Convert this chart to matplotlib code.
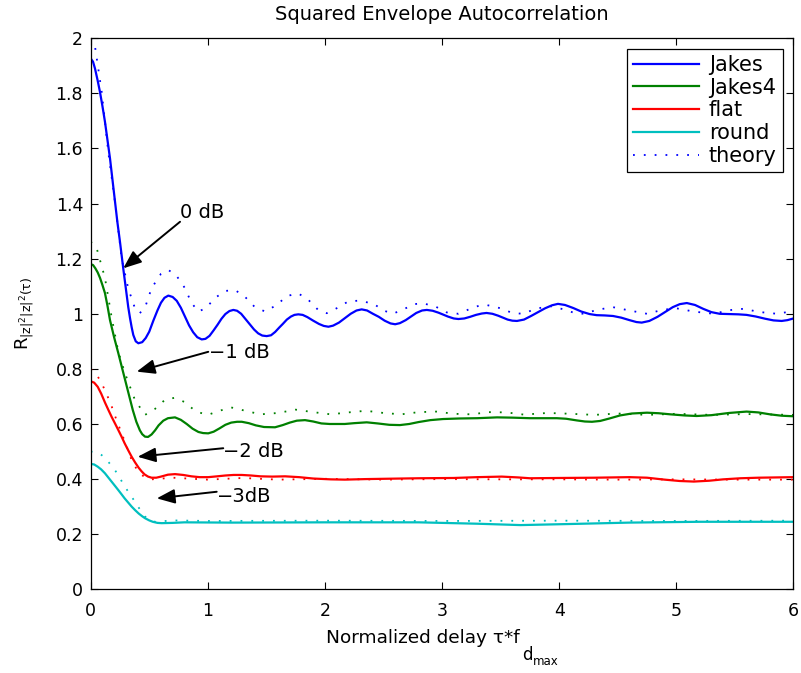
import matplotlib
matplotlib.use("Agg")
import matplotlib.pyplot as plt
from matplotlib.lines import Line2D

plt.rcParams['font.family'] = ['DejaVu Sans']
plt.rcParams['mathtext.fontset'] = 'custom'
plt.rcParams['mathtext.rm'] = 'DejaVu Sans'
plt.rcParams['mathtext.it'] = 'DejaVu Sans'

#---------------- values
# Jakes (blue solid)
jakes_x = [0, 0.02, 0.037, 0.058, 0.079, 0.1, 0.122, 0.143, 0.165, 0.186, 0.207, 0.228, 0.25,
           0.264, 0.278, 0.293, 0.307, 0.321, 0.336, 0.35, 0.364, 0.385, 0.407,
           0.44, 0.47, 0.5, 0.535, 0.57, 0.6, 0.63, 0.663,
           0.7, 0.735, 0.77, 0.805, 0.84, 0.875, 0.91, 0.948,
           0.98, 1.015, 1.05, 1.083, 1.117, 1.15, 1.185, 1.218,
           1.25, 1.285, 1.32, 1.36, 1.395, 1.43, 1.465, 1.503,
           1.54, 1.575, 1.61, 1.64, 1.675, 1.71, 1.74, 1.773,
           1.81, 1.85, 1.9, 1.95, 1.99, 2.03,
           2.07, 2.12, 2.17, 2.22, 2.27, 2.314,
           2.36, 2.41, 2.46, 2.51, 2.56, 2.6,
           2.64, 2.69, 2.735, 2.78, 2.83, 2.87,
           2.92, 2.97, 3.01, 3.05, 3.1, 3.14,
           3.19, 3.24, 3.29, 3.34, 3.38,
           3.43, 3.48, 3.52, 3.56, 3.6, 3.64,
           3.7, 3.76, 3.82, 3.88, 3.94, 3.99,
           4.05, 4.12, 4.19, 4.26, 4.32, 4.39, 4.46,
           4.53, 4.6, 4.66, 4.705,
           4.77, 4.84, 4.91, 4.97, 5.03, 5.09,
           5.16, 5.23, 5.3, 5.37, 5.45, 5.53, 5.6, 5.68, 5.76, 5.83, 5.9, 5.95, 6.0]
jakes_y = [1.927, 1.915, 1.89, 1.85, 1.806, 1.755, 1.697, 1.632, 1.564, 1.487, 1.407, 1.333, 1.262,
           1.213, 1.165, 1.115, 1.068, 1.024, 0.984, 0.951, 0.923, 0.9, 0.893,
           0.897, 0.912, 0.935, 0.975, 1.012, 1.040, 1.058, 1.066,
           1.061, 1.047, 1.022, 0.99, 0.958, 0.933, 0.915, 0.907,
           0.909, 0.92, 0.94, 0.96, 0.982, 0.999, 1.01, 1.014,
           1.011, 1.0, 0.982, 0.962, 0.943, 0.929, 0.921, 0.919,
           0.922, 0.934, 0.95, 0.963, 0.979, 0.99, 0.996, 0.998,
           0.996, 0.988, 0.975, 0.963, 0.956, 0.953,
           0.957, 0.968, 0.984, 1.0, 1.012, 1.016,
           1.012, 1.0, 0.989, 0.975, 0.965, 0.962,
           0.966, 0.977, 0.99, 1.003, 1.012, 1.014,
           1.011, 1.004, 0.997, 0.99, 0.983, 0.981,
           0.983, 0.989, 0.996, 1.001, 1.003,
           1.0, 0.993, 0.986, 0.979, 0.975, 0.974,
           0.979, 0.992, 1.006, 1.02, 1.031, 1.036,
           1.032, 1.021, 1.008, 0.999, 0.995, 0.994, 0.992,
           0.986, 0.977, 0.97, 0.968,
           0.974, 0.989, 1.008, 1.024, 1.035, 1.039,
           1.032, 1.018, 1.006, 1.0, 0.999, 0.998, 0.996, 0.99, 0.982, 0.976, 0.974, 0.977, 0.983]

# Jakes4 (green solid)
jakes4_x = [0, 0.02, 0.04, 0.06, 0.08, 0.1, 0.122, 0.143, 0.165, 0.2, 0.236, 0.27, 0.3, 0.33,
            0.36, 0.39, 0.42, 0.44, 0.464, 0.49, 0.52, 0.55, 0.58, 0.62, 0.66, 0.72, 0.77,
            0.82, 0.87, 0.92, 0.96, 1.004, 1.05, 1.1, 1.15, 1.2, 1.25, 1.29, 1.35, 1.41, 1.48,
            1.574, 1.64, 1.7, 1.76, 1.83, 1.9, 1.97, 2.04, 2.1, 2.17, 2.25, 2.357, 2.45, 2.55,
            2.64, 2.72, 2.8, 2.9, 3.01, 3.15, 3.3, 3.47, 3.6, 3.75, 3.9, 3.98, 4.06, 4.15,
            4.22, 4.28, 4.35, 4.43, 4.52, 4.62, 4.75, 4.85, 4.95, 5.07, 5.175, 5.3, 5.45, 5.6,
            5.7, 5.8, 5.9, 6.0]
jakes4_y = [1.18, 1.177, 1.165, 1.15, 1.13, 1.105, 1.075, 1.03, 0.977, 0.915, 0.857, 0.8, 0.75, 0.7,
            0.65, 0.608, 0.577, 0.563, 0.554, 0.553, 0.562, 0.577, 0.595, 0.612, 0.621, 0.624, 0.615,
            0.6, 0.583, 0.571, 0.567, 0.566, 0.572, 0.584, 0.597, 0.605, 0.608, 0.608, 0.603, 0.595, 0.589,
            0.588, 0.596, 0.605, 0.612, 0.614, 0.609, 0.602, 0.6, 0.6, 0.6, 0.603, 0.606, 0.602, 0.597,
            0.596, 0.6, 0.607, 0.614, 0.618, 0.62, 0.621, 0.624, 0.623, 0.621, 0.621, 0.621, 0.619, 0.613,
            0.609, 0.608, 0.611, 0.62, 0.631, 0.638, 0.641, 0.639, 0.635, 0.631, 0.629, 0.632, 0.64, 0.645,
            0.642, 0.635, 0.63, 0.628]

# flat (red solid)
flat_x = [0, 0.03, 0.06, 0.09, 0.122, 0.15, 0.18, 0.21, 0.236, 0.265, 0.29, 0.32, 0.35, 0.38,
          0.41, 0.435, 0.46, 0.49, 0.52, 0.56, 0.6, 0.66, 0.72, 0.79, 0.86, 0.93, 1.004, 1.08,
          1.15, 1.22, 1.29, 1.37, 1.45, 1.55, 1.66, 1.78, 1.9, 2.05, 2.17, 2.35, 2.5, 2.8,
          3.1, 3.3, 3.51, 3.65, 3.75, 4.0, 4.3, 4.6, 4.75, 4.9, 5.03, 5.15, 5.28, 5.4, 5.55,
          5.7, 6.0]
flat_y = [0.755, 0.75, 0.735, 0.71, 0.678, 0.652, 0.625, 0.6, 0.578, 0.553, 0.53, 0.505, 0.481, 0.46,
          0.441, 0.428, 0.417, 0.409, 0.405, 0.405, 0.409, 0.416, 0.418, 0.415, 0.41, 0.407, 0.407, 0.41,
          0.413, 0.415, 0.415, 0.413, 0.41, 0.409, 0.41, 0.407, 0.402, 0.399, 0.398, 0.4, 0.401, 0.403,
          0.404, 0.407, 0.409, 0.406, 0.403, 0.404, 0.405, 0.407, 0.405, 0.398, 0.393, 0.391, 0.394, 0.399, 0.403,
          0.405, 0.407]

# round (cyan solid)
round_x = [0, 0.03, 0.06, 0.09, 0.122, 0.15, 0.18, 0.21, 0.236, 0.265, 0.29, 0.32, 0.35, 0.38,
           0.41, 0.44, 0.464, 0.5, 0.53, 0.57, 0.606, 0.7, 0.8, 1.2, 2.0, 2.8, 3.3, 3.67,
           4.1, 4.6, 5.2, 6.0]
round_y = [0.455, 0.453, 0.445, 0.435, 0.421, 0.406, 0.39, 0.374, 0.36, 0.344, 0.33, 0.315, 0.30, 0.287,
           0.275, 0.265, 0.258, 0.25, 0.245, 0.241, 0.24, 0.241, 0.243, 0.242, 0.243, 0.243, 0.238, 0.233,
           0.237, 0.242, 0.245, 0.245]

# theory curves (dotted)
th0_x = [0, 0.037, 0.094, 0.15, 0.207, 0.265, 0.32, 0.378, 0.42, 0.47, 0.52, 0.6, 0.663, 0.73,
         0.805, 0.86, 0.92, 0.98, 1.07, 1.15, 1.232, 1.31, 1.4, 1.49, 1.58, 1.68, 1.773, 1.86,
         1.94, 2.015, 2.1, 2.2, 2.3, 2.42, 2.5, 2.58, 2.68, 2.76, 2.84, 2.95, 3.04, 3.14, 3.24,
         3.32, 3.38, 3.5, 3.6, 3.69, 3.8, 3.92, 4.05, 4.13, 4.21, 4.33, 4.46, 4.6, 4.75, 4.88,
         5.0, 5.15, 5.32, 5.45, 5.57, 5.72, 5.86, 6.0]
th0_y = [2.0, 1.97, 1.806, 1.588, 1.407, 1.2, 1.093, 1.02, 1.002, 1.03, 1.093, 1.145, 1.159, 1.14,
         1.093, 1.04, 1.008, 1.02, 1.06, 1.083, 1.086, 1.065, 1.025, 1.008, 1.03, 1.065, 1.074, 1.05,
         1.015, 1.002, 1.02, 1.045, 1.048, 1.035, 1.012, 1.0, 1.018, 1.035, 1.038, 1.025, 1.005, 1.0, 1.018,
         1.03, 1.032, 1.02, 1.003, 1.0, 1.018, 1.028, 1.015, 1.003, 1.0, 1.015, 1.024, 1.012, 1.0, 1.014,
         1.02, 1.008, 1.0, 1.013, 1.018, 1.006, 1.0, 1.01]

th1_x = [0, 0.05, 0.122, 0.18, 0.236, 0.293, 0.378, 0.464, 0.55, 0.64, 0.72, 0.8, 0.9, 1.0,
         1.1, 1.2, 1.3, 1.45, 1.6, 1.75, 1.9, 2.05, 2.2, 2.35, 2.5, 2.65, 2.8, 2.95, 3.1,
         3.25, 3.4, 3.55, 3.7, 3.9, 4.1, 4.3, 4.5, 4.75, 5.0, 5.3, 5.6, 6.0]
th1_y = [1.262, 1.24, 1.13, 0.985, 0.862, 0.784, 0.687, 0.633, 0.655, 0.69, 0.695, 0.68, 0.645, 0.633,
         0.648, 0.66, 0.65, 0.635, 0.64, 0.652, 0.643, 0.635, 0.642, 0.648, 0.64, 0.635, 0.643, 0.645, 0.637,
         0.635, 0.643, 0.642, 0.634, 0.64, 0.637, 0.633, 0.638, 0.633, 0.637, 0.633, 0.636, 0.633]

th2_x = [0, 0.05, 0.094, 0.14, 0.18, 0.22, 0.265, 0.31, 0.35, 0.39, 0.435, 0.48, 0.52, 0.7,
         1.0, 1.3, 1.6, 2.0, 2.5, 3.0, 3.5, 4.0, 4.5, 5.0, 5.5, 6.0]
th2_y = [0.799, 0.78, 0.748, 0.705, 0.663, 0.615, 0.566, 0.515, 0.469, 0.438, 0.415, 0.403, 0.399, 0.405,
         0.398, 0.404, 0.398, 0.401, 0.398, 0.4, 0.399, 0.399, 0.398, 0.399, 0.398, 0.398]

th3_x = [0, 0.05, 0.094, 0.15, 0.207, 0.25, 0.293, 0.335, 0.378, 0.42, 0.464, 0.51, 0.55, 0.7,
         1.0, 2.0, 3.0, 4.0, 5.0, 6.0]
th3_y = [0.50, 0.497, 0.487, 0.463, 0.433, 0.403, 0.372, 0.345, 0.318, 0.29, 0.264, 0.25, 0.245, 0.25,
         0.248, 0.249, 0.248, 0.249, 0.248, 0.249]

#---------------- plot
W, H = 801, 673
fig = plt.figure(figsize=(W / 100, H / 100), dpi=100)
ax = fig.add_axes([0.1132, 0.1244, 0.8773, 0.8187])

blue = (0, 0, 1)
green = (0, 0.5, 0)
red = (1, 0, 0)
cyan = (0, 0.75, 0.75)
dots = (0, (1, 5))

ax.plot(jakes_x, jakes_y, color=blue, lw=1.6)
ax.plot(jakes4_x, jakes4_y, color=green, lw=1.6)
ax.plot(flat_x, flat_y, color=red, lw=1.6)
ax.plot(round_x, round_y, color=cyan, lw=1.6)
ax.plot(th0_x, th0_y, color=blue, lw=1.3, ls=dots)
ax.plot(th1_x, th1_y, color=green, lw=1.3, ls=dots)
ax.plot(th2_x, th2_y, color=red, lw=1.3, ls=dots)
ax.plot(th3_x, th3_y, color=cyan, lw=1.3, ls=dots)

ax.set_xlim(0, 6)
ax.set_ylim(0, 2)
ax.set_xticks(range(7))
yt = [i * 0.2 for i in range(11)]
ax.set_yticks(yt)
ax.set_yticklabels(['%g' % round(v, 1) for v in yt])
ax.tick_params(direction='in', length=5, width=0.8, top=True, right=True, labelsize=12.5)
ax.tick_params(axis='x', pad=9)
ax.tick_params(axis='y', pad=5.5)
for s in ax.spines.values():
    s.set_linewidth(0.9)

ax.set_title('Squared Envelope Autocorrelation', fontsize=14, pad=13)
# x label with MATLAB-like dropped subscripts
fig.text(520 / W, 1 - 643 / H, 'Normalized delay τ*f', fontsize=13.3, ha='right', va='baseline')
fig.text(522 / W, 1 - 660 / H, 'd', fontsize=12, ha='left', va='baseline')
fig.text(533 / W, 1 - 665 / H, 'max', fontsize=8.5, ha='left', va='baseline')
ax.set_ylabel('$\\mathregular{R_{|z|^2|z|^2(\\tau)}}$', fontsize=13, labelpad=14)

# annotations: tail (text side) -> tip
arr = dict(arrowstyle='-|>,head_length=0.55,head_width=0.22', color='k', lw=1.4,
           mutation_scale=20, shrinkA=0, shrinkB=0)
ax.annotate('', xy=(0.278, 1.165), xytext=(0.763, 1.334), arrowprops=arr)
ax.text(0.763, 1.348, '0 dB', fontsize=14, ha='left', va='baseline')
ax.annotate('', xy=(0.393, 0.79), xytext=(1.004, 0.862), arrowprops=arr)
ax.text(1.01, 0.84, '\u22121 dB', fontsize=14, ha='left', va='baseline')
ax.annotate('', xy=(0.401, 0.481), xytext=(1.132, 0.512), arrowprops=arr)
ax.text(1.131, 0.48, '\u22122 dB', fontsize=14, ha='left', va='baseline')
ax.annotate('', xy=(0.564, 0.33), xytext=(1.076, 0.354), arrowprops=arr)
ax.text(1.076, 0.318, '\u22123dB', fontsize=14, ha='left', va='baseline')

handles = [Line2D([], [], color=blue, lw=1.6),
           Line2D([], [], color=green, lw=1.6),
           Line2D([], [], color=red, lw=1.6),
           Line2D([], [], color=cyan, lw=1.6),
           Line2D([], [], color=blue, lw=1.3, ls=dots)]
labels = ['Jakes', 'Jakes4', 'flat', 'round', 'theory']
leg = ax.legend(handles, labels, loc='upper right', fontsize=15, fancybox=False,
                edgecolor='k', framealpha=1, labelspacing=0.13, handlelength=3.2,
                handletextpad=0.45, borderaxespad=0.5, borderpad=0.3)
leg.get_frame().set_linewidth(0.9)

fig.savefig('out.png', dpi=100)
